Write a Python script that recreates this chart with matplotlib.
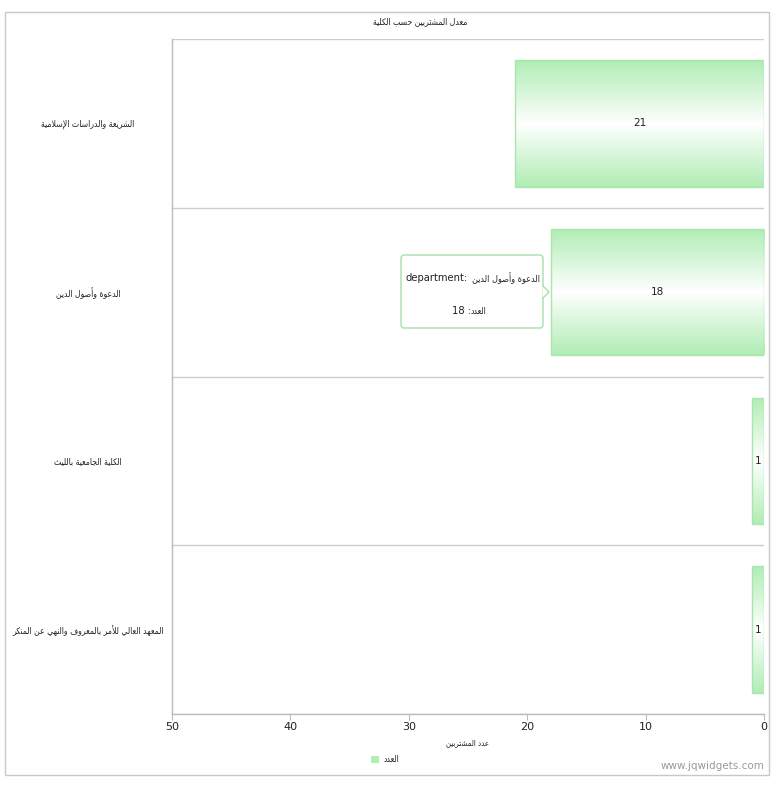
import matplotlib
matplotlib.use("Agg")
import matplotlib.pyplot as plt
import numpy as np
from matplotlib.patches import Rectangle, FancyBboxPatch, Polygon, Patch
from matplotlib.lines import Line2D
from matplotlib.font_manager import FontProperties, findfont

# ---------------- data ----------------
title_text = "معدل المشتربين حسب الكلية"
categories = [
    "الشريعة والدراسات الإسلامية",
    "الدعوة وأصول الدين",
    "الكلية الجامعية بالليث",
    "المعهد العالي للأمر بالمعروف والنهي عن المنكر",
]
values = [21, 18, 1, 1]
x_ticks = [0, 10, 20, 30, 40, 50]
x_label = "عدد المشتربين"
legend_label = "العدد"
tooltip_field = "department"
tooltip_index = 1
watermark = "www.jqwidgets.com"

# ---------------- minimal Arabic shaping (presentation forms + visual order) ----------------
FORMS = {
    '\u0627': ('\uFE8D', '\uFE8E', None, None),
    '\u0623': ('\uFE83', '\uFE84', None, None),
    '\u0625': ('\uFE87', '\uFE88', None, None),
    '\u0628': ('\uFE8F', '\uFE90', '\uFE91', '\uFE92'),
    '\u0629': ('\uFE93', '\uFE94', None, None),
    '\u062A': ('\uFE95', '\uFE96', '\uFE97', '\uFE98'),
    '\u062B': ('\uFE99', '\uFE9A', '\uFE9B', '\uFE9C'),
    '\u062C': ('\uFE9D', '\uFE9E', '\uFE9F', '\uFEA0'),
    '\u062D': ('\uFEA1', '\uFEA2', '\uFEA3', '\uFEA4'),
    '\u062F': ('\uFEA9', '\uFEAA', None, None),
    '\u0631': ('\uFEAD', '\uFEAE', None, None),
    '\u0633': ('\uFEB1', '\uFEB2', '\uFEB3', '\uFEB4'),
    '\u0634': ('\uFEB5', '\uFEB6', '\uFEB7', '\uFEB8'),
    '\u0635': ('\uFEB9', '\uFEBA', '\uFEBB', '\uFEBC'),
    '\u0639': ('\uFEC9', '\uFECA', '\uFECB', '\uFECC'),
    '\u0641': ('\uFED1', '\uFED2', '\uFED3', '\uFED4'),
    '\u0643': ('\uFED9', '\uFEDA', '\uFEDB', '\uFEDC'),
    '\u0644': ('\uFEDD', '\uFEDE', '\uFEDF', '\uFEE0'),
    '\u0645': ('\uFEE1', '\uFEE2', '\uFEE3', '\uFEE4'),
    '\u0646': ('\uFEE5', '\uFEE6', '\uFEE7', '\uFEE8'),
    '\u0647': ('\uFEE9', '\uFEEA', '\uFEEB', '\uFEEC'),
    '\u0648': ('\uFEED', '\uFEEE', None, None),
    '\u064A': ('\uFEF1', '\uFEF2', '\uFEF3', '\uFEF4'),
    '\u0644\u0627': ('\uFEFB', '\uFEFC', None, None),
    '\u0644\u0623': ('\uFEF7', '\uFEF8', None, None),
    '\u0644\u0625': ('\uFEF9', '\uFEFA', None, None),
}
ALEFS = ('\u0627', '\u0623', '\u0625')


def shape(s):
    toks = []
    i = 0
    while i < len(s):
        c = s[i]
        if c == '\u0644' and i + 1 < len(s) and s[i + 1] in ALEFS:
            toks.append(c + s[i + 1])
            i += 2
        else:
            toks.append(c)
            i += 1
    out = []
    for j, t in enumerate(toks):
        f = FORMS.get(t)
        if f is None:
            out.append(t)
            continue
        pf = FORMS.get(toks[j - 1]) if j > 0 else None
        nf = FORMS.get(toks[j + 1]) if j + 1 < len(toks) else None
        jp = pf is not None and pf[2] is not None
        jn = f[2] is not None and nf is not None
        if jp and jn:
            out.append(f[3])
        elif jp:
            out.append(f[1])
        elif jn:
            out.append(f[2])
        else:
            out.append(f[0])
    return ''.join(reversed(out))


# Arabic font: prefer condensed DejaVu if available (closer to the narrow reference text)
cond_path = findfont(FontProperties(family='DejaVu Sans', stretch='condensed'))
if 'Condensed' in cond_path:
    AR = FontProperties(fname=cond_path)
    ar_scale = 1.0
else:
    AR = FontProperties(family='DejaVu Sans')
    ar_scale = 0.9


def arfont(size):
    p = AR.copy()
    p.set_size(size * ar_scale)
    return p


# ---------------- figure ----------------
W, H = 779, 785
plt.rcParams['font.family'] = ['DejaVu Sans']
fig = plt.figure(figsize=(W / 100, H / 100), dpi=100)
fig.patch.set_facecolor('white')


def fx(x):
    return x / W


def fy(y):
    return 1 - y / H


# outer border
fig.patches.append(Rectangle((fx(5), fy(775)), fx(764), 763 / H, transform=fig.transFigure,
                             fill=False, edgecolor='#c8c8c8', lw=1))

ax = fig.add_axes([fx(172), fy(714), 592 / W, 675 / H])
ax.set_facecolor('white')

n = len(categories)
ypos = np.arange(n)
bar_h = 0.75
edge_green = np.array([176, 237, 180]) / 255.0

bars = ax.barh(ypos, values, height=bar_h, color='none', edgecolor='#a9e6ad', lw=1, zorder=3)

# gradient fill inside each bar
t = np.linspace(-1, 1, 200)
prof = np.abs(t)[:, None]
grad = (1 - prof) * np.ones(3)[None, :] + prof * edge_green[None, :]
grad = grad[:, None, :]
for b in bars:
    x0 = b.get_x()
    x1 = x0 + b.get_width()
    y0 = b.get_y()
    y1 = y0 + b.get_height()
    im = ax.imshow(grad, extent=(x0, x1, y1, y0), aspect='auto', interpolation='bilinear', zorder=2)
    im.set_clip_path(b)

for yi, v in zip(ypos, values):
    ax.text(v / 2, yi, str(v), ha='center', va='center', fontsize=7.5, color='#222222', zorder=4)

ax.set_xlim(50, 0)
ax.set_ylim(n - 0.5, -0.5)

# band separator lines
for yb in np.arange(-0.5, n, 1.0):
    ax.axhline(yb, color='#cccccc', lw=1, zorder=1)

for s in ['top', 'right']:
    ax.spines[s].set_visible(False)
for s in ['left', 'bottom']:
    ax.spines[s].set_color('#bbbbbb')
    ax.spines[s].set_linewidth(1)

ax.set_xticks(x_ticks)
ax.set_xticklabels([str(v) for v in x_ticks], fontsize=8, color='#222222')
ax.tick_params(axis='x', length=4, color='#bbbbbb', pad=2)

ax.set_yticks(ypos)
ax.set_yticklabels([shape(c) for c in categories], fontproperties=arfont(6.2), color='#222222', ha='center')
ax.tick_params(axis='y', length=0, pad=60.5)

ax.set_xlabel(shape(x_label), fontproperties=arfont(5.6), color='#222222', labelpad=4)

# title
fig.text(fx(420), fy(22), shape(title_text), ha='center', va='center', fontproperties=arfont(6.2),
         color='#222222')

# legend
fig.legend(handles=[Patch(facecolor='#b4ecb6', edgecolor='none')], labels=[shape(legend_label)],
           loc='center', bbox_to_anchor=(fx(385), fy(760)), frameon=False, prop=arfont(6.2),
           handlelength=1.0, handleheight=1.0, handletextpad=0.5, borderpad=0, labelcolor='#222222')

# watermark
fig.text(fx(764), fy(766), watermark, ha='right', va='center', fontsize=7.5, color='#9a9a9a')

# tooltip
bx0, by0, bx1, by1 = 401, 255, 543, 328
tip = FancyBboxPatch((fx(bx0), fy(by1)), fx(bx1 - bx0), (by1 - by0) / H,
                     boxstyle='round,pad=0,rounding_size=0.004', transform=fig.transFigure,
                     facecolor='white', edgecolor='#a5e0a8', lw=1, zorder=10)
fig.patches.append(tip)
fig.patches.append(Polygon([(fx(542.5), fy(286)), (fx(549), fy(292)), (fx(542.5), fy(298))],
                           closed=True, transform=fig.transFigure, facecolor='white',
                           edgecolor='none', zorder=11))
fig.lines.append(Line2D([fx(543), fx(549), fx(543)], [fy(286), fy(292), fy(298)],
                        transform=fig.transFigure, color='#a5e0a8', lw=1, zorder=12))
fig.text(fx(406), fy(278), tooltip_field + ":", ha='left', va='center', fontsize=7.2,
         color='#222222', zorder=13)
fig.text(fx(540), fy(278), shape(categories[tooltip_index]), ha='right', va='center',
         fontproperties=arfont(6.5), color='#222222', zorder=13)
fig.text(fx(471), fy(311), str(values[tooltip_index]) + " :", ha='right', va='center', fontsize=7.2,
         color='#222222', zorder=13)
fig.text(fx(471), fy(311), shape(legend_label), ha='left', va='center',
         fontproperties=arfont(6.2), color='#222222', zorder=13)

fig.savefig('out.png', dpi=100, facecolor='white')
